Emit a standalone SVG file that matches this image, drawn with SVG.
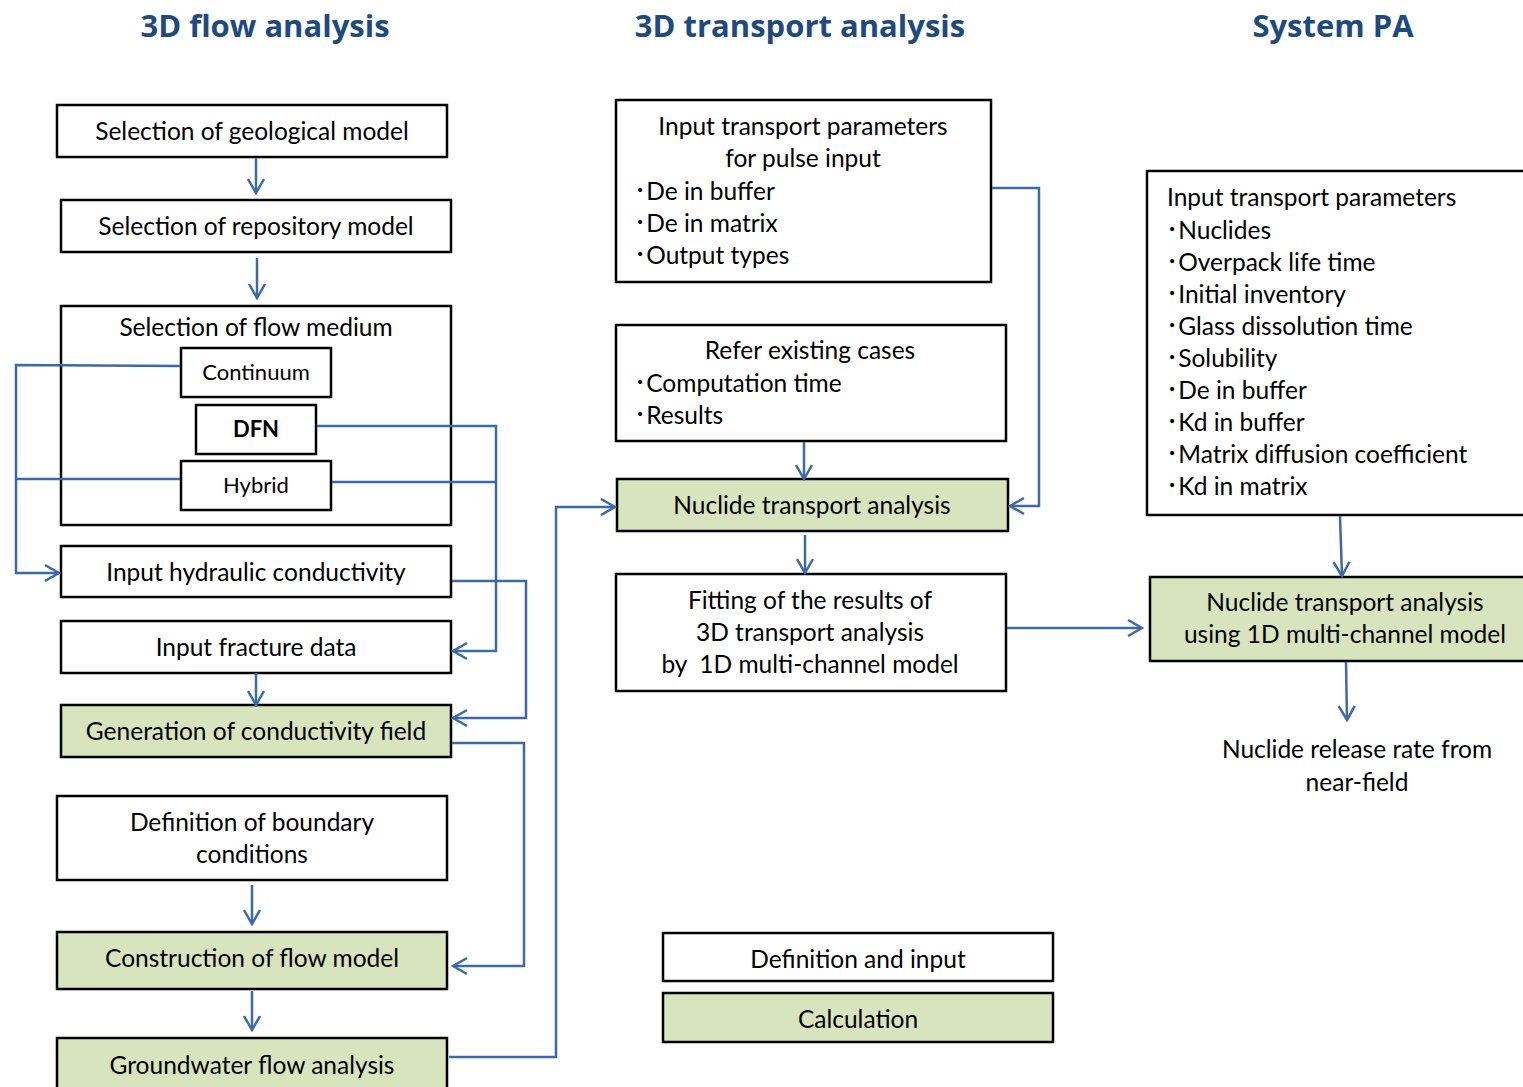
<svg xmlns="http://www.w3.org/2000/svg" width="1523" height="1087" viewBox="0 0 1523 1087">
<style>
.b{fill:#fff;stroke:#000;stroke-width:2.5}
.g{fill:#D7E4BD;stroke:#000;stroke-width:2.5}
.t{font-family:Lato,"Noto Sans CJK JP",sans-serif;font-size:24.5px;fill:#000}
.c{text-anchor:middle}
.h{font-family:"Open Sans","Noto Sans",sans-serif;font-size:31px;font-weight:bold;fill:#1F4A80;text-anchor:middle}
.s{font-size:22px}
.cn{fill:none;stroke:#3C6AA6;stroke-width:2.5}
</style>
<defs>
<marker id="a" viewBox="0 0 20 20" refX="18" refY="10" markerWidth="20" markerHeight="20" markerUnits="userSpaceOnUse" orient="auto">
<path d="M4,2 L18,10 L4,18" fill="none" stroke="#3C6AA6" stroke-width="2.5"/>
</marker>
</defs>
<rect width="1523" height="1087" fill="#fff"/>
<text class="h" x="265" y="37">3D flow analysis</text>
<text class="h" x="800" y="37">3D transport analysis</text>
<text class="h" x="1333" y="37">System PA</text>

<g id="n1"><rect class="b" x="57" y="105" width="390" height="52"/><text class="t c" x="252" y="140">Selection of geological model</text></g>
<g id="n2"><rect class="b" x="61" y="200" width="390" height="52"/><text class="t c" x="256" y="235">Selection of repository model</text></g>
<g id="n3"><rect class="b" x="61" y="306" width="390" height="219"/><text class="t c" x="256" y="336">Selection of flow medium</text></g>
<g id="n3a"><rect class="b" x="181" y="348" width="150" height="49"/><text class="t c s" x="256" y="380">Continuum</text></g>
<g id="n3b"><rect class="b" x="196" y="405" width="120" height="49"/><text class="t c s" x="256" y="437" font-weight="bold">DFN</text></g>
<g id="n3c"><rect class="b" x="181" y="461" width="150" height="49"/><text class="t c s" x="256" y="493">Hybrid</text></g>
<g id="n4"><rect class="b" x="61" y="546" width="390" height="51"/><text class="t c" x="256" y="581">Input hydraulic conductivity</text></g>
<g id="n5"><rect class="b" x="61" y="621" width="390" height="52"/><text class="t c" x="256" y="656">Input fracture data</text></g>
<g id="n6"><rect class="g" x="61" y="705" width="390" height="52"/><text class="t c" x="256" y="740">Generation of conductivity field</text></g>
<g id="n7"><rect class="b" x="57" y="796" width="390" height="84"/><text class="t c" x="252" y="831">Definition of boundary</text><text class="t c" x="252" y="863">conditions</text></g>
<g id="n8"><rect class="g" x="57" y="932" width="390" height="57"/><text class="t c" x="252" y="967">Construction of flow model</text></g>
<g id="n9"><rect class="g" x="57" y="1038" width="390" height="60"/><text class="t c" x="252" y="1074">Groundwater flow analysis</text></g>

<g id="m1"><rect class="b" x="616" y="100" width="375" height="182"/>
<text class="t c" x="803" y="135">Input transport parameters</text>
<text class="t c" x="803" y="167">for pulse input</text>
<text class="t" x="634" y="200">･De in buffer</text>
<text class="t" x="634" y="232">･De in matrix</text>
<text class="t" x="634" y="264">･Output types</text></g>
<g id="m2"><rect class="b" x="616" y="325" width="390" height="116"/>
<text class="t c" x="810" y="359">Refer existing cases</text>
<text class="t" x="634" y="392">･Computation time</text>
<text class="t" x="634" y="424">･Results</text></g>
<g id="m3"><rect class="g" x="617" y="479" width="391" height="52"/><text class="t c" x="812" y="514">Nuclide transport analysis</text></g>
<g id="m4"><rect class="b" x="616" y="574" width="390" height="117"/>
<text class="t c" x="810" y="609">Fitting of the results of</text>
<text class="t c" x="810" y="641">3D transport analysis</text>
<text class="t c" x="810" y="673" xml:space="preserve">by  1D multi-channel model</text></g>

<g id="r1"><rect class="b" x="1147" y="171" width="390" height="344"/>
<text class="t" x="1167" y="206">Input transport parameters</text>
<text class="t" x="1166" y="239">･Nuclides</text>
<text class="t" x="1166" y="271">･Overpack life time</text>
<text class="t" x="1166" y="303">･Initial inventory</text>
<text class="t" x="1166" y="335">･Glass dissolution time</text>
<text class="t" x="1166" y="367">･Solubility</text>
<text class="t" x="1166" y="399">･De in buffer</text>
<text class="t" x="1166" y="431">･Kd in buffer</text>
<text class="t" x="1166" y="463">･Matrix diffusion coefficient</text>
<text class="t" x="1166" y="495">･Kd in matrix</text></g>
<g id="r2"><rect class="g" x="1150" y="577" width="390" height="84"/>
<text class="t c" x="1345" y="611">Nuclide transport analysis</text>
<text class="t c" x="1345" y="643">using 1D multi-channel model</text></g>
<g id="r3"><text class="t c" x="1357" y="758">Nuclide release rate from</text><text class="t c" x="1357" y="791">near-field</text></g>

<g id="legend1"><rect class="b" x="663" y="933" width="390" height="48"/><text class="t c" x="858" y="968">Definition and input</text></g>
<g id="legend2"><rect class="g" x="663" y="993" width="390" height="49"/><text class="t c" x="858" y="1028">Calculation</text></g>

<g id="connectors">
<path class="cn" marker-end="url(#a)" d="M256,158 V193"/>
<path class="cn" marker-end="url(#a)" d="M257,258 V298"/>
<path class="cn" marker-end="url(#a)" d="M180,366 L16,365 V573 H59"/>
<path class="cn" d="M180,479 H16"/>
<path class="cn" marker-end="url(#a)" d="M317,426 H496 V651 H453"/>
<path class="cn" d="M332,482 L496,482"/>
<path class="cn" marker-end="url(#a)" d="M452,581 H526 V718 H453"/>
<path class="cn" marker-end="url(#a)" d="M256,673 V705"/>
<path class="cn" marker-end="url(#a)" d="M452,743 H524 V966 H453"/>
<path class="cn" marker-end="url(#a)" d="M252,885 V924"/>
<path class="cn" marker-end="url(#a)" d="M252,991 V1030"/>
<path class="cn" marker-end="url(#a)" d="M449,1057 H556 V507 H615"/>
<path class="cn" marker-end="url(#a)" d="M992,188 H1039 V506 H1010"/>
<path class="cn" marker-end="url(#a)" d="M804,442 V479"/>
<path class="cn" marker-end="url(#a)" d="M805,535 V573"/>
<path class="cn" marker-end="url(#a)" d="M1007,628 H1142"/>
<path class="cn" marker-end="url(#a)" d="M1340,516 L1342,576"/>
<path class="cn" marker-end="url(#a)" d="M1346,662 L1347,720"/>
</g>
</svg>
